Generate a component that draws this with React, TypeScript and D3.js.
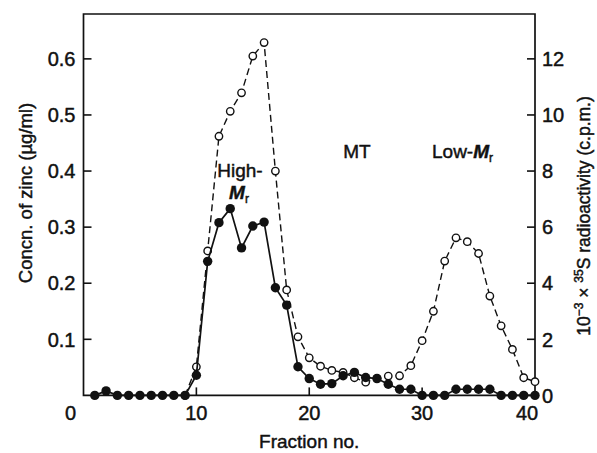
import React from 'react';
import * as d3 from 'd3';

// Fraction numbers 1..40
const fractions = [
  1, 2, 3, 4, 5, 6, 7, 8, 9, 10, 11, 12, 13, 14, 15, 16, 17, 18, 19, 20,
  21, 22, 23, 24, 25, 26, 27, 28, 29, 30, 31, 32, 33, 34, 35, 36, 37, 38, 39, 40,
];

// Zinc concentration (ug/ml), filled circles, left axis
const zinc = [
  0, 0.008, 0, 0, 0, 0, 0, 0, 0, 0.036, 0.239, 0.308, 0.333, 0.263, 0.302, 0.309, 0.192, 0.161, 0.051, 0.03,
  0.02, 0.021, 0.035, 0.041, 0.032, 0.03, 0.02, 0.011, 0.011, 0, 0, 0, 0.011, 0.011, 0.011, 0.011, 0, 0, 0, 0,
];

// 35S radioactivity (10^-3 x c.p.m.), open circles, right axis, from fraction 9
const sulfurFractions = [
  9, 10, 11, 12, 13, 14, 15, 16, 17, 18, 19, 20, 21, 22, 23, 24, 25, 26, 27, 28,
  29, 30, 31, 32, 33, 34, 35, 36, 37, 38, 39, 40,
];
const sulfur = [
  0, 1.02, 5.15, 9.24, 10.13, 10.79, 12.1, 12.58, 8.0, 3.76, 2.09, 1.34, 1.04, 0.89, 0.82, 0.63, 0.47, 0.61, 0.69, 0.7,
  1.06, 1.95, 3.0, 4.79, 5.62, 5.48, 5.06, 3.54, 2.48, 1.64, 0.63, 0.49,
];

const leftTicks = [0.1, 0.2, 0.3, 0.4, 0.5, 0.6];
const rightTicks = [0, 2, 4, 6, 8, 10, 12];
const xTicks = [10, 20, 30];
const xLabels = [0, 10, 20, 30, 40];

const W = 597;
const H = 453;
const FONT = '"Liberation Sans", Arial, Helvetica, sans-serif';
const INK = '#111';
// slight outline to mimic the heavier print of the original
const heavy = { stroke: INK, strokeWidth: 0.45 };

export default function App() {
  const x = d3.scaleLinear().domain([0, 40]).range([83.5, 535]);
  const yL = d3.scaleLinear().domain([0, 0.68]).range([395.4, 14]);
  const yR = d3.scaleLinear().domain([0, 13.6]).range([395.4, 14]);

  const zincPts = fractions.map((f, i) => [f, zinc[i]] as [number, number]);
  const sPts = sulfurFractions.map((f, i) => [f, sulfur[i]] as [number, number]);

  const zincLine = d3.line<[number, number]>().x(d => x(d[0])).y(d => yL(d[1]));
  const sLine = d3.line<[number, number]>().x(d => x(d[0])).y(d => yR(d[1]));

  const [x0, x1] = x.range();
  const [yb, yt] = yL.range();
  const tick = 8;

  return (
    <svg width={W} height={H} style={{ position: 'absolute', left: 0, top: 0, background: '#fff' }}
      fontFamily={FONT} fill={INK}>
      {/* frame: left, bottom, right, top */}
      <path d={`M${x0},${yt}V${yb}H${x1}V${yt}Z`} fill="none" stroke={INK} strokeWidth={1.7} />

      {/* left ticks (inward) */}
      {leftTicks.map(t => (
        <g key={'l' + t}>
          <line x1={x0} x2={x0 + tick} y1={yL(t)} y2={yL(t)} stroke={INK} strokeWidth={1.6} />
          <text x={x0 - 8} y={yL(t)} dy="0.36em" textAnchor="end" fontSize={20} {...heavy}>{t.toFixed(1)}</text>
        </g>
      ))}

      {/* right ticks (inward) */}
      {rightTicks.map(t => (
        <g key={'r' + t}>
          {t > 0 && <line x1={x1 - tick} x2={x1} y1={yR(t)} y2={yR(t)} stroke={INK} strokeWidth={1.6} />}
          <text x={x1 + 7} y={yR(t)} dy="0.36em" textAnchor="start" fontSize={20} {...heavy}>{t}</text>
        </g>
      ))}

      {/* bottom ticks (inward) */}
      {xTicks.map(t => (
        <line key={'x' + t} x1={x(t)} x2={x(t)} y1={yb} y2={yb - tick} stroke={INK} strokeWidth={1.6} />
      ))}
      {xLabels.map(t => (
        <text key={'xl' + t} x={x(t) + (t === 0 ? -13 : t === 40 ? -8 : 0)} y={yb + 17} dy="0.36em"
          textAnchor="middle" fontSize={20} {...heavy}>{t}</text>
      ))}

      {/* axis titles */}
      <text x={x(20)} y={441} dy="0.36em" textAnchor="middle" fontSize={19} {...heavy}>Fraction no.</text>
      <text transform={`translate(25,193) rotate(-90)`} dy="0.36em" textAnchor="middle" fontSize={18.5} {...heavy}>
        Concn. of zinc (µg/ml)
      </text>
      <text transform={`translate(584,216) rotate(-90)`} dy="0.36em" textAnchor="middle" fontSize={17.5} {...heavy}>
        10<tspan fontSize={12} dy="-7">−3</tspan><tspan dy="7"> × </tspan>
        <tspan fontSize={12} dy="-7">35</tspan><tspan dy="7">S radioactivity (c.p.m.)</tspan>
      </text>

      {/* peak labels */}
      <text x={240} y={177} textAnchor="middle" fontSize={19} {...heavy}>High-</text>
      <text x={239} y={199} textAnchor="middle" fontSize={19} {...heavy}>
        <tspan fontStyle="italic" fontWeight="bold">M</tspan><tspan fontSize={12} dy="4">r</tspan>
      </text>
      <text x={357} y={158} textAnchor="middle" fontSize={19} {...heavy}>MT</text>
      <text x={432} y={158} textAnchor="start" fontSize={19} {...heavy}>
        Low-<tspan fontStyle="italic" fontWeight="bold">M</tspan><tspan fontSize={12} dy="4">r</tspan>
      </text>

      {/* 35S series: dashed line, open circles */}
      <path d={sLine(sPts) || ''} fill="none" stroke={INK} strokeWidth={1.4} strokeDasharray="7,4" />
      {sPts.map(d => (
        <circle key={'s' + d[0]} cx={x(d[0])} cy={yR(d[1])} r={3.7} fill="#fff" stroke={INK} strokeWidth={1.4} />
      ))}

      {/* zinc series: solid line, filled circles */}
      <path d={zincLine(zincPts) || ''} fill="none" stroke={INK} strokeWidth={1.7} />
      {zincPts.map(d => (
        <circle key={'z' + d[0]} cx={x(d[0])} cy={yL(d[1])} r={4.7} fill={INK} />
      ))}
    </svg>
  );
}
